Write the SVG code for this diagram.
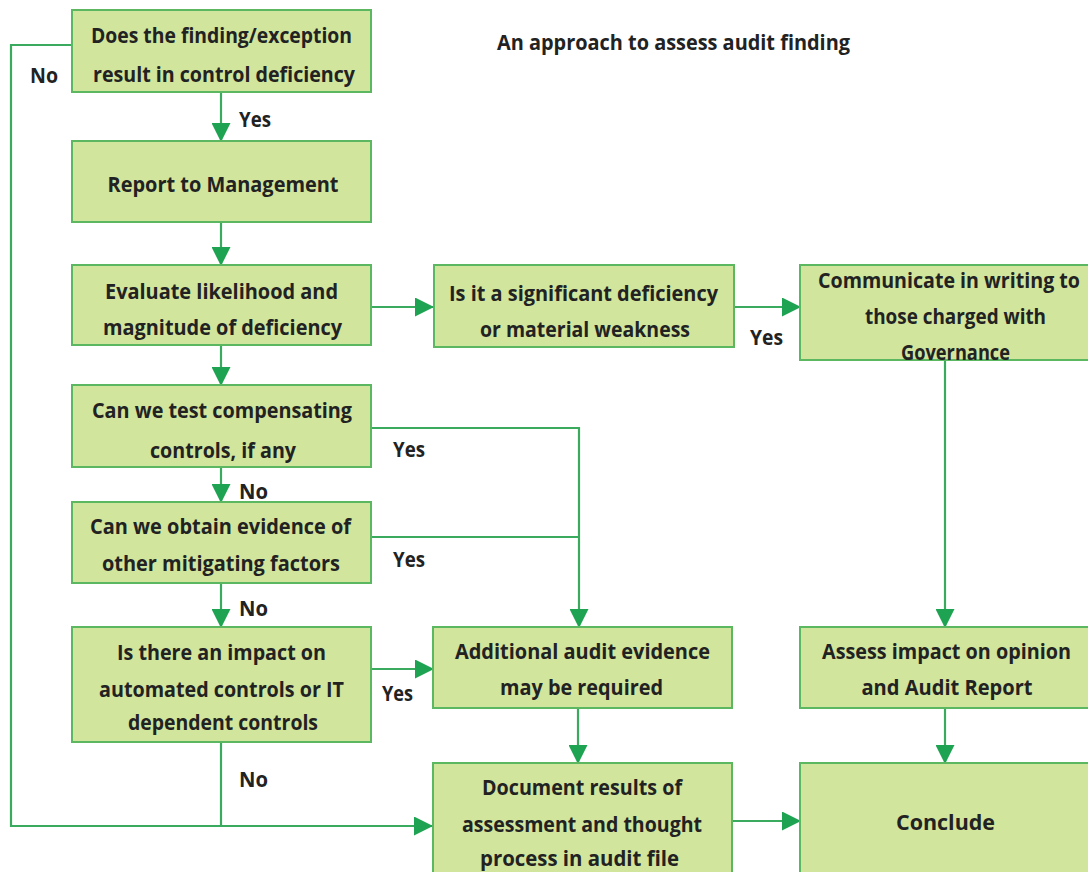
<svg xmlns="http://www.w3.org/2000/svg" width="1088" height="872" viewBox="0 0 1088 872">
  <defs>
    <style>
      .box { fill: #d1e59d; stroke: #5cb860; stroke-width: 2; }
      .t { font-family: "Open Sans", "Noto Sans", sans-serif; font-weight: bold; font-size: 22px; fill: #222; text-anchor: middle; }
      .te { text-anchor: end; }
      .lbl { font-family: "Open Sans", "Noto Sans", sans-serif; font-weight: bold; font-size: 22px; fill: #222; }
      .ln { fill: none; stroke: #3aaa5e; stroke-width: 2.2; }
    </style>
    <marker id="arrow" markerUnits="userSpaceOnUse" markerWidth="19" markerHeight="19" viewBox="0 0 19 19" refX="18" refY="9.5" orient="auto">
      <path d="M0,0 L19,9.5 L0,19 Z" fill="#1ea352"/>
    </marker>
  </defs>
  <rect width="1088" height="872" fill="#ffffff"/>

  <text class="lbl" x="497" y="50" textLength="353" lengthAdjust="spacingAndGlyphs" font-size="21">An approach to assess audit finding</text>

  <!-- connectors -->
  <g id="connectors">
    <polyline class="ln" points="72,45 11,45 11,826 432,826" marker-end="url(#arrow)"/>
    <line class="ln" x1="221" y1="92" x2="221" y2="141" marker-end="url(#arrow)"/>
    <line class="ln" x1="221" y1="222" x2="221" y2="265" marker-end="url(#arrow)"/>
    <line class="ln" x1="371" y1="307" x2="433" y2="307" marker-end="url(#arrow)"/>
    <line class="ln" x1="734" y1="307" x2="800" y2="307" marker-end="url(#arrow)"/>
    <line class="ln" x1="221" y1="345" x2="221" y2="385" marker-end="url(#arrow)"/>
    <polyline class="ln" points="371,428 579,428 579,627" marker-end="url(#arrow)"/>
    <line class="ln" x1="371" y1="537" x2="579" y2="537"/>
    <line class="ln" x1="221" y1="467" x2="221" y2="502" marker-end="url(#arrow)"/>
    <line class="ln" x1="221" y1="583" x2="221" y2="627" marker-end="url(#arrow)"/>
    <line class="ln" x1="371" y1="669" x2="433" y2="669" marker-end="url(#arrow)"/>
    <line class="ln" x1="221" y1="742" x2="221" y2="826"/>
    <line class="ln" x1="578" y1="708" x2="578" y2="763" marker-end="url(#arrow)"/>
    <line class="ln" x1="733" y1="821" x2="800" y2="821" marker-end="url(#arrow)"/>
    <line class="ln" x1="945" y1="360" x2="945" y2="627" marker-end="url(#arrow)"/>
    <line class="ln" x1="945" y1="708" x2="945" y2="763" marker-end="url(#arrow)"/>
  </g>

  <!-- branch labels -->
  <g id="labels">
    <text class="lbl" x="30" y="83" textLength="28" lengthAdjust="spacingAndGlyphs">No</text>
    <text class="lbl" x="239" y="127" textLength="32" lengthAdjust="spacingAndGlyphs">Yes</text>
    <text class="lbl" x="750" y="345" textLength="33" lengthAdjust="spacingAndGlyphs">Yes</text>
    <text class="lbl" x="393" y="457" textLength="32" lengthAdjust="spacingAndGlyphs">Yes</text>
    <text class="lbl" x="239" y="499" textLength="29" lengthAdjust="spacingAndGlyphs">No</text>
    <text class="lbl" x="393" y="567" textLength="32" lengthAdjust="spacingAndGlyphs">Yes</text>
    <text class="lbl" x="239" y="616" textLength="29" lengthAdjust="spacingAndGlyphs">No</text>
    <text class="lbl" x="382" y="701" textLength="31" lengthAdjust="spacingAndGlyphs">Yes</text>
    <text class="lbl" x="239" y="787" textLength="29" lengthAdjust="spacingAndGlyphs">No</text>
  </g>

  <g id="n-finding">
    <rect class="box" x="72" y="10" width="299" height="82"/>
    <text class="t" x="221.5" y="43" textLength="261" lengthAdjust="spacingAndGlyphs">Does the finding/exception</text>
    <text class="t" x="224" y="82" textLength="262" lengthAdjust="spacingAndGlyphs">result in control deficiency</text>
  </g>
  <g id="n-report">
    <rect class="box" x="72" y="141" width="299" height="81"/>
    <text class="t" x="223" y="192" textLength="231" lengthAdjust="spacingAndGlyphs">Report to Management</text>
  </g>
  <g id="n-evaluate">
    <rect class="box" x="72" y="265" width="299" height="80"/>
    <text class="t" x="221.5" y="299" textLength="233" lengthAdjust="spacingAndGlyphs">Evaluate likelihood and</text>
    <text class="t" x="222.5" y="335" textLength="239" lengthAdjust="spacingAndGlyphs">magnitude of deficiency</text>
  </g>
  <g id="n-significant">
    <rect class="box" x="434" y="265" width="300" height="82"/>
    <text class="t" x="583.5" y="301" textLength="269" lengthAdjust="spacingAndGlyphs">Is it a significant deficiency</text>
    <text class="t" x="585" y="337" textLength="210" lengthAdjust="spacingAndGlyphs">or material weakness</text>
  </g>
  <g id="n-communicate">
    <rect class="box" x="800" y="265" width="300" height="95"/>
    <text class="t te" x="1080" y="288" textLength="262" lengthAdjust="spacingAndGlyphs">Communicate in writing to</text>
    <text class="t" x="955.5" y="324" textLength="181" lengthAdjust="spacingAndGlyphs">those charged with</text>
    <text class="t" x="955.5" y="360" textLength="109" lengthAdjust="spacingAndGlyphs">Governance</text>
  </g>
  <g id="n-compensating">
    <rect class="box" x="72" y="385" width="299" height="82"/>
    <text class="t" x="222" y="418" textLength="260" lengthAdjust="spacingAndGlyphs">Can we test compensating</text>
    <text class="t" x="223" y="458" textLength="146" lengthAdjust="spacingAndGlyphs">controls, if any</text>
  </g>
  <g id="n-mitigating">
    <rect class="box" x="72" y="502" width="299" height="81"/>
    <text class="t" x="220.5" y="534" textLength="261" lengthAdjust="spacingAndGlyphs">Can we obtain evidence of</text>
    <text class="t" x="221" y="571" textLength="238" lengthAdjust="spacingAndGlyphs">other mitigating factors</text>
  </g>
  <g id="n-it-impact">
    <rect class="box" x="72" y="627" width="299" height="115"/>
    <text class="t" x="221.5" y="660" textLength="209" lengthAdjust="spacingAndGlyphs">Is there an impact on</text>
    <text class="t" x="221.5" y="697" textLength="245" lengthAdjust="spacingAndGlyphs">automated controls or IT</text>
    <text class="t" x="223" y="730" textLength="190" lengthAdjust="spacingAndGlyphs">dependent controls</text>
  </g>
  <g id="n-additional">
    <rect class="box" x="433" y="627" width="299" height="81"/>
    <text class="t" x="582.5" y="659" textLength="255" lengthAdjust="spacingAndGlyphs">Additional audit evidence</text>
    <text class="t" x="581.5" y="695" textLength="163" lengthAdjust="spacingAndGlyphs">may be required</text>
  </g>
  <g id="n-opinion">
    <rect class="box" x="800" y="627" width="300" height="81"/>
    <text class="t te" x="1071" y="659" textLength="249" lengthAdjust="spacingAndGlyphs">Assess impact on opinion</text>
    <text class="t" x="947" y="695" textLength="171" lengthAdjust="spacingAndGlyphs">and Audit Report</text>
  </g>
  <g id="n-document">
    <rect class="box" x="433" y="763" width="299" height="120"/>
    <text class="t" x="582" y="795" textLength="200" lengthAdjust="spacingAndGlyphs">Document results of</text>
    <text class="t" x="582" y="832" textLength="240" lengthAdjust="spacingAndGlyphs">assessment and thought</text>
    <text class="t" x="579.5" y="866" textLength="199" lengthAdjust="spacingAndGlyphs">process in audit file</text>
  </g>
  <g id="n-conclude">
    <rect class="box" x="800" y="763" width="300" height="120"/>
    <text class="t" x="945.5" y="830" textLength="99" lengthAdjust="spacingAndGlyphs">Conclude</text>
  </g>
</svg>
